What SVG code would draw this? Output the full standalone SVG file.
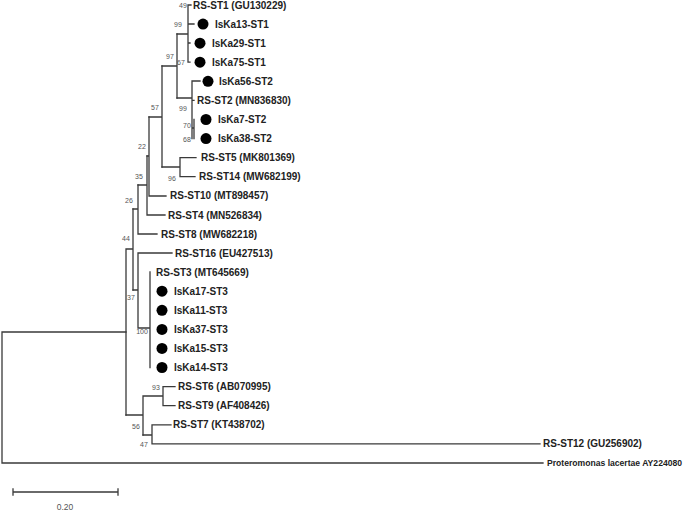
<svg xmlns="http://www.w3.org/2000/svg" width="685" height="512" viewBox="0 0 685 512">
<style>
.e{stroke:#3a3a3a;stroke-width:1.3;fill:none;stroke-linecap:square}
.t{font-family:"Liberation Sans",Arial,sans-serif;font-size:10px;font-weight:bold;fill:#222}
.p{font-family:"Liberation Sans",Arial,sans-serif;font-size:8.6px;font-weight:bold;fill:#222}
.s{font-family:"Liberation Sans",Arial,sans-serif;font-size:7px;fill:#555;text-anchor:middle}
.d{fill:#000}
</style>
<rect width="685" height="512" fill="#fff"/>
<g id="connectors">
<path class="e" d="M2,332V463M2,332H126M2,463H543"/>
<path class="e" d="M126,249V415M126,249H133M133,209V290"/>
<path class="e" d="M133,209H138M138,185V234M138,234H157"/>
<path class="e" d="M138,185H147M147,156V215M147,215H165"/>
<path class="e" d="M147,156H149M149,117V196M149,196H166"/>
<path class="e" d="M149,117H162M162,66V167"/>
<path class="e" d="M162,167H180M180,157.6V176.7M180,157.6H196M180,176.7H195"/>
<path class="e" d="M162,66H177M177,34V98"/>
<path class="e" d="M177,34H188M188,5V62.2M188,5H191M188,24H194M188,43H190M188,62.2H190"/>
<path class="e" d="M177,98H192M192,81V138.6M192,81H200M192,100.4H194M192,128H194M194,119.5V138.6"/>
<path class="e" d="M133,290H138M138,253V328M138,253H172M138,328H150M150,272V367.5"/>
<path class="e" d="M126,415H143M143,396V435M143,396H163M163,386.6V405.7M163,386.6H175M163,405.7H175"/>
<path class="e" d="M143,435H152M152,424.8V443.8M152,424.8H171M152,443.8H540"/>
</g>
<g id="scale-bar">
<path class="e" d="M13,492H118M13,489V495M118,489V495"/>
<text class="s" x="65" y="510" style="font-size:8.5px">0.20</text>
</g>
<g id="bootstrap">
<text class="s" x="183" y="8">49</text>
<text class="s" x="178" y="27">99</text>
<text class="s" x="170" y="59">97</text>
<text class="s" x="181" y="65">67</text>
<text class="s" x="155" y="110">57</text>
<text class="s" x="183" y="111">99</text>
<text class="s" x="187" y="128">70</text>
<text class="s" x="187" y="142">68</text>
<text class="s" x="142" y="149">22</text>
<text class="s" x="139" y="179">35</text>
<text class="s" x="172" y="181">96</text>
<text class="s" x="129" y="203">26</text>
<text class="s" x="126" y="241">44</text>
<text class="s" x="131" y="300">37</text>
<text class="s" x="142" y="334">100</text>
<text class="s" x="156" y="390">93</text>
<text class="s" x="136" y="429">56</text>
<text class="s" x="144" y="447">47</text>
</g>
<g id="n-RS-ST1"><text class="t" x="193" y="8.6">RS-ST1 (GU130229)</text></g>
<g id="n-IsKa13-ST1"><circle class="d" cx="203" cy="24.1" r="5.5"/><text class="t" x="215" y="27.7">IsKa13-ST1</text></g>
<g id="n-IsKa29-ST1"><circle class="d" cx="200" cy="43.2" r="5.5"/><text class="t" x="212" y="46.8">IsKa29-ST1</text></g>
<g id="n-IsKa75-ST1"><circle class="d" cx="200" cy="62.2" r="5.5"/><text class="t" x="212" y="65.8">IsKa75-ST1</text></g>
<g id="n-IsKa56-ST2"><circle class="d" cx="208" cy="81.3" r="5.5"/><text class="t" x="219" y="84.9">IsKa56-ST2</text></g>
<g id="n-RS-ST2"><text class="t" x="197" y="104">RS-ST2 (MN836830)</text></g>
<g id="n-IsKa7-ST2"><circle class="d" cx="206" cy="119.5" r="5.5"/><text class="t" x="218" y="123.1">IsKa7-ST2</text></g>
<g id="n-IsKa38-ST2"><circle class="d" cx="206" cy="138.6" r="5.5"/><text class="t" x="218" y="142.2">IsKa38-ST2</text></g>
<g id="n-RS-ST5"><text class="t" x="201" y="161.2">RS-ST5 (MK801369)</text></g>
<g id="n-RS-ST14"><text class="t" x="199" y="180.3">RS-ST14 (MW682199)</text></g>
<g id="n-RS-ST10"><text class="t" x="170" y="199.4">RS-ST10 (MT898457)</text></g>
<g id="n-RS-ST4"><text class="t" x="168" y="218.5">RS-ST4 (MN526834)</text></g>
<g id="n-RS-ST8"><text class="t" x="161" y="237.6">RS-ST8 (MW682218)</text></g>
<g id="n-RS-ST16"><text class="t" x="175" y="256.6">RS-ST16 (EU427513)</text></g>
<g id="n-RS-ST3"><text class="t" x="156" y="275.7">RS-ST3 (MT645669)</text></g>
<g id="n-IsKa17-ST3"><circle class="d" cx="162" cy="291.2" r="5.5"/><text class="t" x="174" y="294.8">IsKa17-ST3</text></g>
<g id="n-IsKa11-ST3"><circle class="d" cx="162" cy="310.3" r="5.5"/><text class="t" x="174" y="313.9">IsKa11-ST3</text></g>
<g id="n-IsKa37-ST3"><circle class="d" cx="162" cy="329.4" r="5.5"/><text class="t" x="174" y="333">IsKa37-ST3</text></g>
<g id="n-IsKa15-ST3"><circle class="d" cx="162" cy="348.4" r="5.5"/><text class="t" x="174" y="352">IsKa15-ST3</text></g>
<g id="n-IsKa14-ST3"><circle class="d" cx="162" cy="367.5" r="5.5"/><text class="t" x="174" y="371.1">IsKa14-ST3</text></g>
<g id="n-RS-ST6"><text class="t" x="178" y="390.2">RS-ST6 (AB070995)</text></g>
<g id="n-RS-ST9"><text class="t" x="178" y="409.3">RS-ST9 (AF408426)</text></g>
<g id="n-RS-ST7"><text class="t" x="173" y="428.4">RS-ST7 (KT438702)</text></g>
<g id="n-RS-ST12"><text class="t" x="543" y="447.4">RS-ST12 (GU256902)</text></g>
<g id="n-Proteromonas"><text class="p" x="547" y="466.1">Proteromonas lacertae AY224080</text></g>
</svg>
